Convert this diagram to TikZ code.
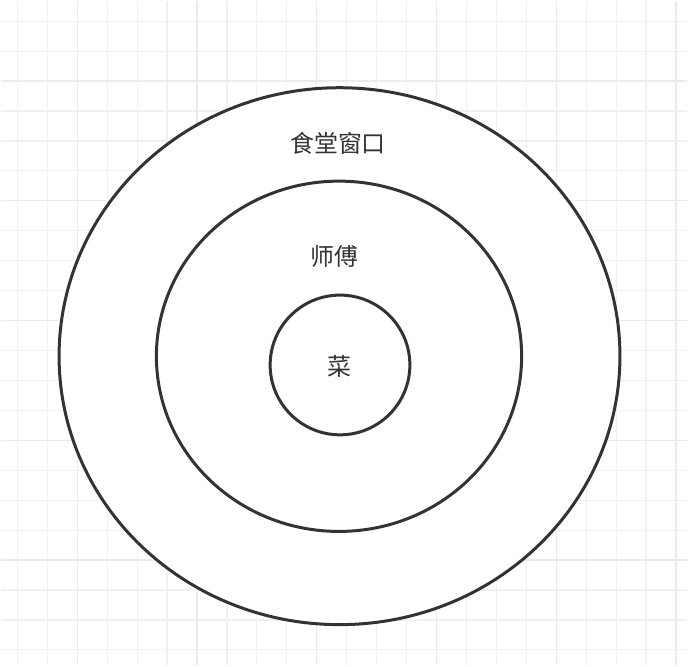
\documentclass[tikz,border=0pt]{standalone}
\usepackage{fontspec}
\newfontfamily\cjk{Noto Sans CJK SC}
\usetikzlibrary{shapes.geometric, positioning, calc}

\begin{document}
\begin{tikzpicture}[x=1pt, y=-1pt,
    ring/.style={draw=black!80, line width=3pt, ellipse, inner sep=0pt},
    lbl/.style={font=\cjk\fontsize{24}{24}\selectfont, text=black!80}]
% Grid paper
\fill[white] (0,0) rectangle (688,666);
\foreach \x in {16.7,46.7,...,688} \draw[black!6, line width=1.2pt] (\x,0) -- (\x,666);
\foreach \y in {20.5,50.5,...,666} \draw[black!6, line width=1.2pt] (0,\y) -- (688,\y);
\foreach \x in {76.7,196.7,...,688} \draw[black!8, line width=1.4pt] (\x,0) -- (\x,666);
\foreach \y in {80.5,200.5,...,666} \draw[black!8, line width=1.4pt] (0,\y) -- (688,\y);
% Rings
\node[ring, fill=white, minimum width=562, minimum height=538] (window) at (339.5,356.2) {};
\node[ring, minimum width=366, minimum height=351] (chef) at (339,356.3) {};
\node[ring, minimum width=140, minimum height=140] (dish) at (340,365) {};
% Labels
\node[lbl] (windowlbl) at (338,143) {食堂窗口};
\node[lbl] (cheflbl) at (334.5,256.7) {师傅};
\node[lbl] (dishlbl) at (339,366.5) {菜};
\useasboundingbox (0,0) rectangle (688,666);
\end{tikzpicture}
\end{document}
